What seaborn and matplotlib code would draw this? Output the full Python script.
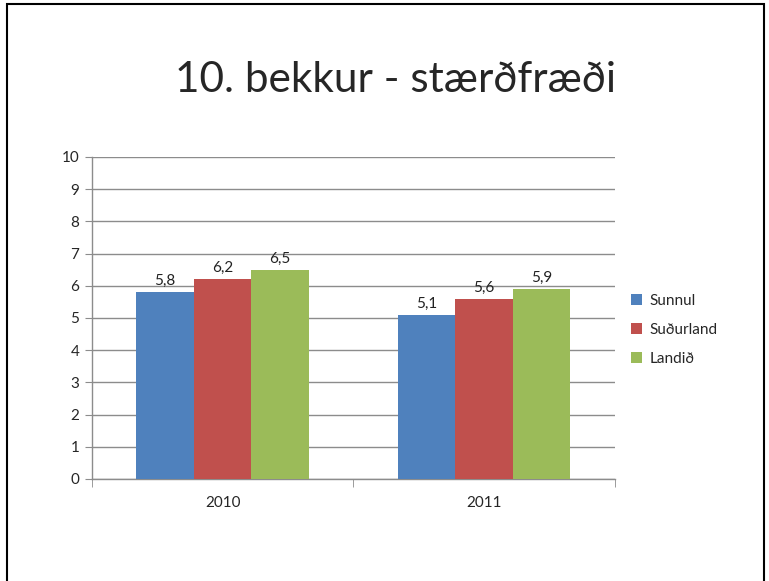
import pandas as pd
import matplotlib.pyplot as plt
import matplotlib.patches as mpatches
from matplotlib.ticker import FixedLocator
import seaborn as sns

# gögn
years = ['2010', '2011']
series = ['Sunnul', 'Suðurland', 'Landið']
sunnul = [5.8, 5.1]
sudurland = [6.2, 5.6]
landid = [6.5, 5.9]
colors = ['#4F81BD', '#C0504D', '#9BBB59']

df = pd.DataFrame({
    'ár': years * 3,
    'hópur': [s for s in series for _ in years],
    'einkunn': sunnul + sudurland + landid,
})

sns.set_style('white')
plt.rcParams['font.family'] = ['Lato', 'DejaVu Sans']

fig = plt.figure(figsize=(7.69, 5.81), dpi=100)
ax = fig.add_axes([0.1196, 0.1756, 0.68, 0.5542])

sns.barplot(data=df, x='ár', y='einkunn', hue='hópur', palette=colors,
            width=0.66, saturation=1, errorbar=None, linewidth=0, ax=ax, zorder=3)

for cont in ax.containers:
    ax.bar_label(cont, labels=[f'{b.get_height():.1f}'.replace('.', ',') for b in cont],
                 padding=3, fontsize=11, color='#222222')

ax.set_ylim(0, 10)
ax.set_yticks(range(0, 11))
ax.set_xlim(-0.5, 1.5)
ax.yaxis.grid(True, color='#8c8c8c', linewidth=1, zorder=0)
ax.set_xlabel('')
ax.set_ylabel('')
ax.tick_params(axis='y', length=5, color='#8c8c8c', labelsize=11, pad=4, direction='out', left=True)
ax.tick_params(axis='x', which='major', length=0, labelsize=11, pad=12)
ax.xaxis.set_minor_locator(FixedLocator([-0.5, 0.5, 1.5]))
ax.tick_params(axis='x', which='minor', length=6, color='#8c8c8c', bottom=True, direction='out')
for side in ['top', 'right']:
    ax.spines[side].set_visible(False)
for side in ['left', 'bottom']:
    ax.spines[side].set_color('#8c8c8c')
    ax.spines[side].set_linewidth(1)

ax.legend(loc='center left', bbox_to_anchor=(1.005, 0.463), frameon=False,
          fontsize=11, handlelength=0.7, handleheight=0.7, handletextpad=0.5,
          labelspacing=1.0)

fig.text(0.514, 0.862, '10. bekkur - stærðfræði', ha='center', va='center', fontsize=30.5)

# rammi utan um myndina
fig.patches.append(mpatches.Rectangle((0.009, -0.1), 0.985, 1.093, transform=fig.transFigure,
                                      fill=False, edgecolor='black', linewidth=1.5))

fig.savefig('out.png', dpi=100)
